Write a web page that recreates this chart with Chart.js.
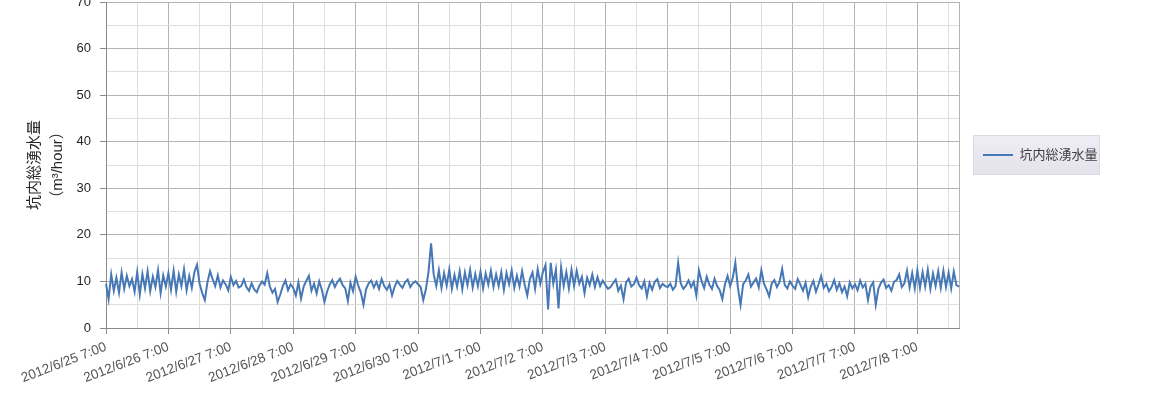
<!DOCTYPE html>
<html lang="ja">
<head>
<meta charset="utf-8">
<title>坑内総湧水量</title>
<script src="https://cdn.jsdelivr.net/npm/chart.js@4/dist/chart.umd.min.js"></script>
<style>
  html, body { margin: 0; padding: 0; background: #ffffff; }
  #wrap { position: relative; width: 1163px; height: 396px; }
</style>
</head>
<body>
<div id="wrap"><canvas id="chart"></canvas></div>
<script>
// Hourly readings, 2012/6/25 7:00 through 2012/7/8 23:00 (m³/hour)
const seriesName = '坑内総湧水量';
const startDate = { year: 2012, month: 6, day: 25, hour: 7 };

const flow = [
  // 6/25
  9.5, 6.2, 11.5, 8.0, 10.8, 7.6, 11.9, 8.4, 11.2, 9.0, 10.5, 7.8, 12.0, 7.2, 11.6, 8.5, 12.2, 7.9, 11.0, 8.8, 12.4, 7.5, 11.3, 8.9,
  // 6/26
  11.8, 8.2, 12.3, 7.8, 11.5, 9.0, 12.6, 8.1, 11.2, 8.6, 12.0, 13.6, 9.5, 7.5, 6.0, 9.8, 12.2, 10.5, 9.0, 11.3, 8.7, 10.2, 9.4, 8.1,
  // 6/27
  11.0, 9.2, 10.1, 8.7, 9.0, 10.4, 8.8, 8.0, 9.6, 8.3, 7.7, 9.1, 10.0, 9.3, 11.8, 8.9, 7.6, 8.4, 5.6, 7.2, 9.0, 10.2, 8.1, 9.4,
  // 6/28
  8.6, 7.0, 9.8, 6.3, 8.9, 10.1, 11.2, 8.0, 9.5, 7.4, 10.0, 8.2, 5.6, 7.8, 9.3, 10.3, 8.8, 9.9, 10.6, 9.2, 8.5, 5.8, 9.7, 7.9,
  // 6/29
  11.0, 9.1, 7.6, 5.0, 8.3, 9.6, 10.2, 8.7, 9.9, 8.4, 10.5, 9.0, 8.2, 9.4, 7.0, 8.9, 10.1, 9.3, 8.6, 9.8, 10.4, 8.8, 9.6, 10.0,
  // 6/30
  9.4, 8.8, 6.0, 8.3, 12.0, 18.2, 11.5, 9.0, 12.4, 8.6, 11.8, 9.1, 12.6, 8.4, 11.4, 8.9, 12.2, 8.3, 11.9, 9.2, 12.5, 8.7, 11.6, 9.0,
  // 7/1
  12.1, 8.5, 11.7, 9.3, 12.3, 8.8, 11.5, 9.0, 12.0, 8.2, 11.8, 9.4, 12.4, 8.6, 11.2, 8.9, 12.2, 9.3, 7.0, 10.5, 11.9, 8.4, 12.6, 9.5,
  // 7/2
  12.0, 13.5, 4.0, 14.0, 9.5, 12.5, 4.2, 13.0, 9.0, 12.0, 8.5, 12.5, 9.0, 12.3, 9.5, 11.0, 7.5, 10.8, 9.2, 11.5, 8.8, 10.9, 9.0, 10.2,
  // 7/3
  9.3, 8.4, 8.8, 9.6, 10.4, 8.0, 9.1, 6.2, 9.8, 10.6, 8.9, 9.4, 10.8, 9.2, 8.5, 10.0, 6.8, 9.7, 8.2, 9.9, 10.5, 8.6, 9.5, 9.0,
  // 7/4
  8.8, 9.5, 8.2, 9.0, 14.0, 9.6, 8.4, 9.1, 10.2, 8.8, 9.9, 7.0, 12.4, 10.1, 8.6, 11.0, 9.3, 8.4, 10.6, 9.0, 8.1, 6.2, 9.4, 11.2,
  // 7/5
  9.0, 10.8, 14.0, 8.6, 5.0, 9.4, 10.2, 11.5, 8.9, 9.8, 10.6, 8.7, 12.4, 9.5, 8.3, 6.8, 9.6, 10.3, 8.8, 9.9, 12.7, 9.2, 8.5, 10.0,
  // 7/6
  9.1, 8.4, 10.5, 9.3, 8.0, 9.7, 6.6, 8.9, 10.1, 7.8, 9.4, 11.2, 8.6, 9.5, 7.9, 8.8, 10.3, 8.2, 9.6, 7.7, 8.9, 6.8, 9.8, 8.5,
  // 7/7
  9.4, 8.1, 10.2, 8.7, 9.5, 6.0, 8.9, 9.8, 5.0, 8.4, 9.7, 10.4, 8.6, 9.2, 8.0, 9.9, 10.3, 11.5, 8.8, 9.6, 12.3, 8.7, 11.8, 8.5,
  // 7/8
  12.4, 8.6, 12.0, 8.9, 12.5, 8.4, 11.7, 9.0, 12.2, 8.6, 12.3, 8.8, 11.9, 8.5, 12.1, 9.2, 8.9
];

// One label per day, shown at every 24th hour
const tickLabels = [
  '2012/6/25 7:00', '2012/6/26 7:00', '2012/6/27 7:00', '2012/6/28 7:00',
  '2012/6/29 7:00', '2012/6/30 7:00', '2012/7/1 7:00', '2012/7/2 7:00',
  '2012/7/3 7:00', '2012/7/4 7:00', '2012/7/5 7:00', '2012/7/6 7:00',
  '2012/7/7 7:00', '2012/7/8 7:00'
];

const yTicks = [0, 10, 20, 30, 40, 50, 60, 70];

// Hourly category labels
const categories = flow.map((_, i) => {
  const d = new Date(startDate.year, startDate.month - 1, startDate.day, startDate.hour + i);
  return `${d.getFullYear()}/${d.getMonth() + 1}/${d.getDate()} ${d.getHours()}:00`;
});

const lastIndex = flow.length - 1;
const FONT = "'Liberation Sans', 'Noto Sans CJK JP', sans-serif";
const MAJOR_GRID = '#b4b4b4';
const MINOR_GRID = '#dedede';
const AXIS = '#8a8a8a';

// Legend entry sits a little above the plot's middle, on a pale frame
const legendFrame = {
  id: 'legendFrame',
  afterLayout(chart) {
    const lg = chart.legend;
    const area = chart.chartArea;
    const target = (area.top + area.bottom) / 2 - 10;
    const d = (lg.top + lg.bottom) / 2 - target;
    lg.top -= d;
    lg.bottom -= d;
  },
  beforeDraw(chart) {
    const lg = chart.legend;
    const ctx = chart.ctx;
    const yc = (lg.top + lg.bottom) / 2;
    const x0 = lg.left + 14;
    const w = lg.right - x0;
    ctx.save();
    const g = ctx.createLinearGradient(0, yc - 20, 0, yc + 20);
    g.addColorStop(0, '#efedf4');
    g.addColorStop(0.5, '#e9e7f0');
    g.addColorStop(1, '#e4e2eb');
    ctx.fillStyle = g;
    ctx.fillRect(x0, yc - 20, w, 40);
    ctx.strokeStyle = '#dcdae3';
    ctx.lineWidth = 1;
    ctx.strokeRect(x0 + 0.5, yc - 19.5, w - 1, 39);
    ctx.restore();
  }
};

new Chart(document.getElementById('chart'), {
  type: 'line',
  data: {
    labels: categories,
    datasets: [{
      label: seriesName,
      data: flow,
      borderColor: '#4778b6',
      backgroundColor: '#4778b6',
      borderWidth: 2,
      pointRadius: 0,
      pointHoverRadius: 0,
      tension: 0,
      fill: false
    }]
  },
  options: {
    responsive: true,
    maintainAspectRatio: false,
    animation: false,
    devicePixelRatio: 1,
    layout: { padding: { left: 0, top: 2, right: 63, bottom: 0 } },
    plugins: {
      tooltip: { enabled: false },
      legend: {
        position: 'right',
        maxWidth: 141,
        labels: {
          usePointStyle: true,
          pointStyle: 'line',
          pointStyleWidth: 30,
          padding: 24,
          color: '#404040',
          font: { family: FONT, size: 13 }
        }
      }
    },
    scales: {
      x: {
        type: 'category',
        offset: false,
        afterFit(scale) {
          scale.height = 68;
          scale.paddingLeft = 0;
          scale.paddingRight = 0;
        },
        grid: {
          offset: false,
          drawOnChartArea: true,
          tickLength: 6,
          lineWidth: 1,
          color: (ctx) => {
            const i = ctx.index;
            if (i % 24 === 0) return MAJOR_GRID;
            if (i % 12 === 0) return MINOR_GRID;
            if (i === lastIndex) return MAJOR_GRID;
            return 'rgba(0,0,0,0)';
          },
          tickColor: (ctx) => (ctx.index % 24 === 0 ? AXIS : 'rgba(0,0,0,0)')
        },
        border: { display: true, color: AXIS, width: 1 },
        ticks: {
          autoSkip: false,
          minRotation: 21,
          maxRotation: 21,
          padding: 5,
          color: '#555555',
          font: { family: FONT, size: 13.5 },
          callback: (value, index) => (index % 24 === 0 ? tickLabels[index / 24] : '')
        }
      },
      y: {
        min: yTicks[0],
        max: yTicks[yTicks.length - 1],
        afterFit(scale) {
          scale.width = 106;
          scale.paddingTop = 0;
          scale.paddingBottom = 0;
        },
        grid: {
          tickLength: 6,
          lineWidth: 1,
          color: (ctx) => (ctx.tick && ctx.tick.value % 10 === 0 ? MAJOR_GRID : MINOR_GRID),
          tickColor: (ctx) => (ctx.tick && ctx.tick.value % 10 === 0 ? AXIS : 'rgba(0,0,0,0)')
        },
        border: { display: true, color: AXIS, width: 1 },
        ticks: {
          stepSize: 5,
          padding: 9,
          color: '#262626',
          font: { family: FONT, size: 13 },
          callback: (value) => (yTicks.includes(value) ? String(value) : '')
        },
        title: {
          display: true,
          text: [seriesName, '（m³/hour）'],
          color: '#262626',
          font: { family: FONT, size: 15, lineHeight: 1.56 },
          padding: { top: 23, bottom: 4 }
        }
      }
    }
  },
  plugins: [legendFrame]
});
</script>
</body>
</html>
